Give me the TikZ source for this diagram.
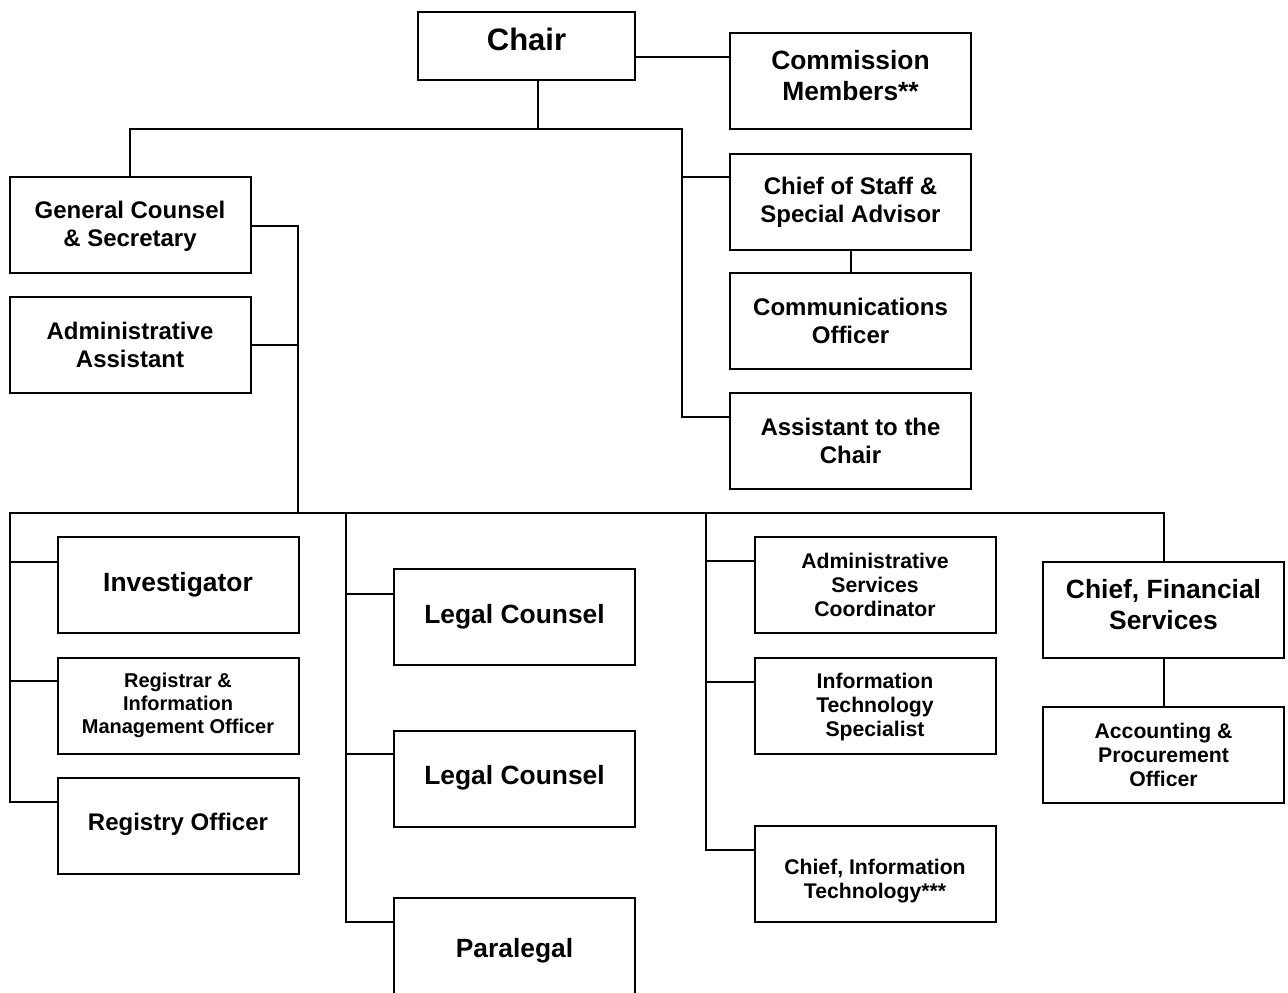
\documentclass[tikz,border=0pt]{standalone}
\usepackage{fontspec}
\setmainfont{Liberation Sans}
\begin{document}
\begin{tikzpicture}[x=0.5pt,y=-0.5pt,
  box/.style={draw=black,line width=1pt,rectangle,inner sep=0pt,fill=white},
  txt/.style={inner sep=0pt,align=center,font=\bfseries},
  conn/.style={draw=black,line width=1pt,line join=miter},
  fbig/.style={font=\bfseries\fontsize{15.5}{18}\selectfont},
  fmid/.style={font=\bfseries\fontsize{13.2}{15.5}\selectfont},
  fnorm/.style={font=\bfseries\fontsize{12}{14}\selectfont},
  fsmall/.style={font=\bfseries\fontsize{10.6}{12}\selectfont},
  ftiny/.style={font=\bfseries\fontsize{10}{11.5}\selectfont},
  wbox/.style={box,minimum width=120.5pt,minimum height=48pt}
]
\useasboundingbox (0,0) rectangle (1288,992);
% boxes
\node[box,minimum width=108.5pt,minimum height=34pt] (chair) at (526.5,46) {};
\node[txt,fbig] (chairT) at (526.5,39) {Chair};
\node[wbox] (cm) at (850.5,81) {};
\node[txt,fmid] (cmT) at (850.5,75.5) {Commission\\Members**};
\node[wbox] (cos) at (850.5,201.5) {};
\node[txt,fnorm] (cosT) at (850.5,202) {Chief of Staff \&\\Special Advisor};
\node[wbox] (co) at (850.5,321) {};
\node[txt,fnorm] (coT) at (850.5,321) {Communications\\Officer};
\node[wbox] (ac) at (850.5,441) {};
\node[txt,fnorm] (acT) at (850.5,441) {Assistant to the\\Chair};
\node[wbox] (gc) at (130,225) {};
\node[txt,fnorm] (gcT) at (130,226) {General Counsel\\\& Secretary};
\node[wbox] (aa) at (130,345) {};
\node[txt,fnorm] (aaT) at (130,345) {Administrative\\Assistant};
\node[wbox] (inv) at (178,585) {};
\node[txt,fmid] (invT) at (178,585) {Investigator};
\node[wbox] (reg) at (178,706) {};
\node[txt,ftiny] (regT) at (178,705) {Registrar \&\\Information\\Management Officer};
\node[wbox] (ro) at (178,826) {};
\node[txt,fnorm] (roT) at (178,824) {Registry Officer};
\node[wbox] (lc1) at (514.5,617) {};
\node[txt,fmid] (lc1T) at (514.5,617) {Legal Counsel};
\node[wbox] (lc2) at (514.5,778.5) {};
\node[txt,fmid] (lc2T) at (514.5,778) {Legal Counsel};
\node[wbox] (pl) at (514.5,946) {};
\node[txt,fmid] (plT) at (514.5,951) {Paralegal};
\node[wbox] (asc) at (875,585) {};
\node[txt,fsmall] (ascT) at (875,585) {Administrative\\Services\\Coordinator};
\node[wbox] (its) at (875,706) {};
\node[txt,fsmall] (itsT) at (875,707) {Information\\Technology\\Specialist};
\node[wbox] (cit) at (875,874) {};
\node[txt,fsmall] (citT) at (875,881) {Chief, Information\\Technology***};
\node[wbox] (cfs) at (1163.5,610) {};
\node[txt,fmid] (cfsT) at (1163.5,604.5) {Chief, Financial\\Services};
\node[wbox] (acc) at (1163.5,754.5) {};
\node[txt,fsmall] (accT) at (1163.5,755) {Accounting \&\\Procurement\\Officer};
% junction coordinates
\coordinate (yCM) at (0,57);
\coordinate (j1) at (538,129);
\coordinate (jR) at (682,129);
\coordinate (bCOS) at (682,177);
\coordinate (bAC) at (682,417);
\coordinate (bGC) at (298,226);
\coordinate (bAA) at (298,345);
\coordinate (busL) at (10,513);
\coordinate (busM) at (298,513);
\coordinate (busR) at (1164,513);
\coordinate (v1) at (10,562);
\coordinate (v2) at (10,681);
\coordinate (v3) at (10,802);
\coordinate (l1) at (346,594);
\coordinate (l2) at (346,754);
\coordinate (l3) at (346,922);
\coordinate (a1) at (706,561);
\coordinate (a2) at (706,682);
\coordinate (a3) at (706,850);
% connectors
\draw[conn] (chair.east |- yCM) -- (cm.west |- yCM);
\draw[conn] (j1 |- chair.south) -- (j1);
\draw[conn] (gc.north) -- (gc.north |- j1) -- (jR) -- (bAC) -- (bAC -| ac.west);
\draw[conn] (bCOS) -- (bCOS -| cos.west);
\draw[conn] (cos.south) -- (co.north);
\draw[conn] (bGC -| gc.east) -- (bGC) -- (busM);
\draw[conn] (bAA -| aa.east) -- (bAA);
\draw[conn] (v3 -| ro.west) -- (v3) -- (busL) -- (busR) -- (busR |- cfs.north);
\draw[conn] (v1) -- (v1 -| inv.west);
\draw[conn] (v2) -- (v2 -| reg.west);
\draw[conn] (l1 |- busL) -- (l3) -- (l3 -| pl.west);
\draw[conn] (l1) -- (l1 -| lc1.west);
\draw[conn] (l2) -- (l2 -| lc2.west);
\draw[conn] (a1 |- busL) -- (a3) -- (a3 -| cit.west);
\draw[conn] (a1) -- (a1 -| asc.west);
\draw[conn] (a2) -- (a2 -| its.west);
\draw[conn] (cfs.south -| busR) -- (acc.north -| busR);
\end{tikzpicture}
\end{document}
